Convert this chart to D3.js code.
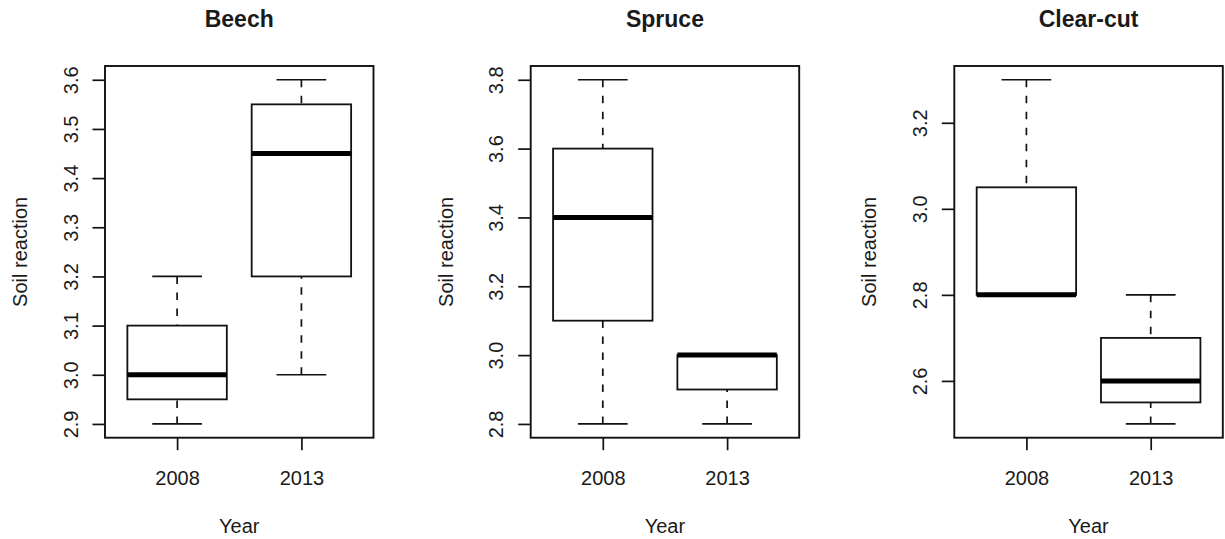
<!DOCTYPE html>
<html>
<head>
<meta charset="utf-8">
<script src="https://cdn.jsdelivr.net/npm/d3@7"></script>
<style>
  html, body { margin: 0; padding: 0; background: #fff; }
  svg { display: block; }
  text { font-family: "Liberation Sans", Arial, sans-serif; fill: #1a1a1a; }
</style>
</head>
<body>
<svg id="chart" width="1225" height="539"></svg>
<script>
// Soil reaction by year, three stands
const panelTitles = ["Beech", "Spruce", "Clear-cut"];
const years = ["2008", "2013"];

// five-number summaries per year: [min, q1, median, q3, max]
const beechStats    = [[2.9, 2.95, 3.0, 3.1, 3.2], [3.0, 3.2, 3.45, 3.55, 3.6]];
const spruceStats   = [[2.8, 3.1, 3.4, 3.6, 3.8], [2.8, 2.9, 3.0, 3.0, 3.0]];
const clearcutStats = [[2.8, 2.8, 2.8, 3.05, 3.3], [2.5, 2.55, 2.6, 2.7, 2.8]];

const beechTicks    = [2.9, 3.0, 3.1, 3.2, 3.3, 3.4, 3.5, 3.6];
const spruceTicks   = [2.8, 3.0, 3.2, 3.4, 3.6, 3.8];
const clearcutTicks = [2.6, 2.8, 3.0, 3.2];

const yLabel = "Soil reaction";
const xLabel = "Year";

const panels = [
  { title: panelTitles[0], stats: beechStats, ticks: beechTicks, left: 105 },
  { title: panelTitles[1], stats: spruceStats, ticks: spruceTicks, left: 530.7 },
  { title: panelTitles[2], stats: clearcutStats, ticks: clearcutTicks, left: 954.3 }
];

const plotW = 268.5, plotTop = 66, plotBottom = 437.7;
const labelSize = "20px";
const svg = d3.select("#chart");

panels.forEach(p => {
  const g = svg.append("g");
  const lo = d3.min(p.stats, s => s[0]), hi = d3.max(p.stats, s => s[4]);
  const pad = (hi - lo) * 0.04;
  const y = d3.scaleLinear().domain([lo - pad, hi + pad]).range([plotBottom, plotTop]);
  const x = d3.scaleLinear().domain([0.42, 2.58]).range([p.left, p.left + plotW]);
  const half = x(1.4) - x(1);       // half box width
  const staple = half / 2;          // half cap width

  // boxes
  p.stats.forEach((s, i) => {
    const cx = x(i + 1);
    const wh = g.append("g").attr("stroke", "#111").attr("stroke-width", 1.7).attr("fill", "none");
    // whiskers drawn from the extreme toward the box
    wh.append("line").attr("x1", cx).attr("x2", cx).attr("y1", y(s[0])).attr("y2", y(s[1]))
      .attr("stroke-dasharray", "7.5,8.5");
    wh.append("line").attr("x1", cx).attr("x2", cx).attr("y1", y(s[4])).attr("y2", y(s[3]))
      .attr("stroke-dasharray", "7.5,8.5");
    // staples
    wh.append("line").attr("x1", cx - staple).attr("x2", cx + staple).attr("y1", y(s[0])).attr("y2", y(s[0]));
    wh.append("line").attr("x1", cx - staple).attr("x2", cx + staple).attr("y1", y(s[4])).attr("y2", y(s[4]));
    // box
    g.append("rect")
      .attr("x", cx - half).attr("width", 2 * half)
      .attr("y", y(s[3])).attr("height", Math.max(0, y(s[1]) - y(s[3])))
      .attr("fill", "#fff").attr("stroke", "#111").attr("stroke-width", 1.8);
    // median
    g.append("line").attr("x1", cx - half).attr("x2", cx + half)
      .attr("y1", y(s[2])).attr("y2", y(s[2]))
      .attr("stroke", "#000").attr("stroke-width", 5);
  });

  // plot frame
  g.append("rect").attr("x", p.left).attr("y", plotTop)
    .attr("width", plotW).attr("height", plotBottom - plotTop)
    .attr("fill", "none").attr("stroke", "#111").attr("stroke-width", 1.9);

  // y axis
  const ya = g.append("g").attr("transform", `translate(${p.left},0)`)
    .call(d3.axisLeft(y).tickValues(p.ticks).tickFormat(d3.format(".1f")).tickSize(12.5).tickSizeOuter(0));
  ya.select(".domain").remove();
  ya.selectAll(".tick line").attr("stroke", "#111").attr("stroke-width", 1.7);
  ya.selectAll(".tick text")
    .attr("x", null).attr("dy", null)
    .attr("transform", "translate(-27.5,0) rotate(-90)")
    .attr("text-anchor", "middle")
    .style("font-size", labelSize).style("font-family", null).attr("fill", "#1a1a1a");

  // x axis
  const xa = g.append("g").attr("transform", `translate(0,${plotBottom})`)
    .call(d3.axisBottom(x).tickValues([1, 2]).tickFormat((d, i) => years[i]).tickSize(12.5).tickSizeOuter(0));
  xa.select(".domain").remove();
  xa.selectAll(".tick line").attr("stroke", "#111").attr("stroke-width", 1.7);
  xa.selectAll(".tick text")
    .attr("y", 47.5).attr("dy", null)
    .style("font-size", labelSize).style("font-family", null).attr("fill", "#1a1a1a");

  const cx = p.left + plotW / 2, cy = (plotTop + plotBottom) / 2;
  // title
  g.append("text").attr("x", cx).attr("y", 27).attr("text-anchor", "middle")
    .style("font-size", "23px").style("font-weight", "bold").text(p.title);
  // axis titles
  g.append("text").attr("x", cx).attr("y", 533).attr("text-anchor", "middle")
    .style("font-size", labelSize).text(xLabel);
  g.append("text").attr("transform", `translate(${p.left - 78},${cy}) rotate(-90)`)
    .attr("text-anchor", "middle").style("font-size", labelSize).text(yLabel);
});
</script>
</body>
</html>
